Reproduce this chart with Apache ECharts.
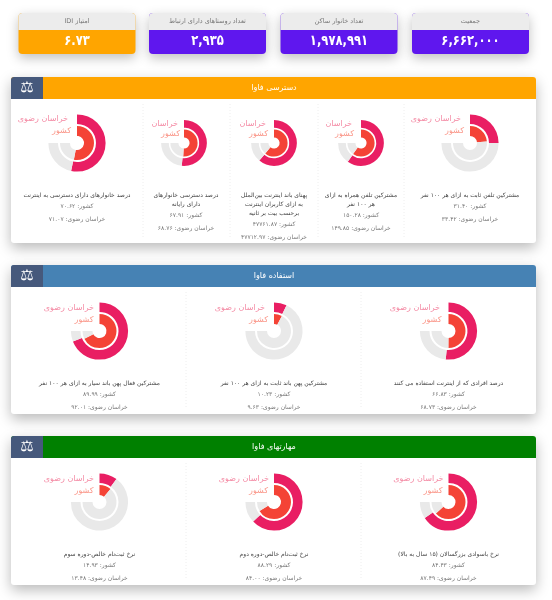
<!DOCTYPE html>
<html dir="rtl"><head><meta charset="utf-8">
<style>html,body{margin:0;padding:0;background:#fff}#c{width:552px;height:600px}</style>
<script src="https://cdn.jsdelivr.net/npm/echarts@6/dist/echarts.min.js"></script></head>
<body><div id="c"></div>
<script>
const statTitles=['جمعیت','تعداد خانوار ساکن','تعداد روستاهای دارای ارتباط','امتیاز IDI'];
const statValues=['۶,۶۶۲,۰۰۰','۱,۹۷۸,۹۹۱','۲,۹۳۵','۶.۷۳'];
const sectionTitles=['دسترسی فاوا','استفاده فاوا','مهارتهای فاوا'];
const row1Titles=[['درصد خانوارهای دارای دسترسی به اینترنت'],['درصد دسترسی خانوارهای','دارای رایانه'],['پهنای باند اینترنت بین‌الملل','به ازای کاربران اینترنت','برحسب بیت بر ثانیه'],['مشترکین تلفن همراه به ازای','هر ۱۰۰ نفر'],['مشترکین تلفن ثابت به ازای هر ۱۰۰ نفر']];
const row1Province=[71.07,68.76,47712.97,149.85,33.42];
const row1Country=[70.62,67.91,47761.87,150.28,31.40];
const row1Max=[100,100,58600,188,100];
const row2Titles=[['مشترکین فعال پهن باند سیار به ازای هر ۱۰۰ نفر'],['مشترکین پهن باند ثابت به ازای هر ۱۰۰ نفر'],['درصد افرادی که از اینترنت استفاده می کنند']];
const row2Province=[92.01,9.63,68.73];
const row2Country=[89.99,10.23,66.83];
const row3Titles=[['نرخ ثبت‌نام خالص-دوره سوم'],['نرخ ثبت‌نام خالص-دوره دوم'],['نرخ باسوادی بزرگسالان (۱۵ سال به بالا)']];
const row3Province=[13.48,84.00,87.49];
const row3Country=[14.93,88.29,84.43];
const provinceName='خراسان رضوی', provinceShort='خراسان', countryName='کشور';

const FONT='"DejaVu Sans",sans-serif';
const fa=(v)=>String(v.toFixed(2)).replace(/\d/g,d=>'۰۱۲۳۴۵۶۷۸۹'[d]);
const g=[], series=[];
const txt=(x,y,t,size,fill,align,weight,sx)=>g.push({type:'text',z:20,x,y,scaleX:sx||1,style:{text:t,font:(weight||'normal')+' '+size+'px '+FONT,fill,align:align||'center',verticalAlign:'middle'}});
const rect=(x,y,w,h,fill,r,extra)=>g.push({type:'rect',z:(extra&&extra.z)||5,shape:{x,y,width:w,height:h,r:r||0},style:Object.assign({fill},extra&&extra.style)});

const cardX=[412,280.5,149,18.5], cardFill=['#5f17ee','#5f17ee','#5f17ee','#ffa500'];
statTitles.forEach((t,i)=>{
  const x=cardX[i],w=117;
  rect(x,13,w,41,cardFill[i],4,{z:4,style:{shadowBlur:12,shadowColor:'rgba(0,0,0,.25)',shadowOffsetY:4}});
  rect(x,13,w,17,'#ececec',[4,4,0,0],{z:5});
  txt(x+w/2,21,t,6.5,'#777');
  txt(x+w/2,41,statValues[i],14.5,'#fff','center','bold',0.8);
});

const panels=[{top:77,head:99,bottom:243,color:'#ffa500',seps:[143,230,318,404]},
 {top:265,head:287,bottom:414,color:'#4682b4',seps:[186,361]},
 {top:436,head:458,bottom:585,color:'#008000',seps:[186,361]}];
panels.forEach((p,i)=>{
  rect(11,p.top,525,p.bottom-p.top,'#fff',3,{z:2,style:{shadowBlur:14,shadowColor:'rgba(0,0,0,.28)',shadowOffsetY:5}});
  rect(11,p.top,525,p.head-p.top,p.color,[3,3,0,0],{z:3});
  rect(11,p.top,32,p.head-p.top,'#46597c',[3,0,0,0],{z:4});
  txt(27,(p.top+p.head)/2,'⚖',15,'#fff');
  txt(274,(p.top+p.head)/2,sectionTitles[i],8,'#fff');
  p.seps.forEach(x=>g.push({type:'line',z:4,shape:{x1:x,y1:p.head+5,x2:x,y2:p.bottom-6},style:{stroke:'#eee',lineWidth:1,lineDash:[1,2]}}));
});

function ring(cx,cy,r0,r1,val,max,color){
  series.push({type:'pie',silent:true,startAngle:90,clockwise:true,center:[cx,cy],radius:[r0,r1],label:{show:false},labelLine:{show:false},animation:false,z:6,
    data:[{value:val,itemStyle:{color}},{value:max-val,itemStyle:{color:'#e9e9e9'}},{value:max/3,itemStyle:{color:'rgba(0,0,0,0)'}}]});
}
function chart(cx,cy,big,titles,prov,ctry,max,yT,legY,legDx,lineH,tx){
  const k=big?1:0.8;
  ring(cx,cy,19*k,28.6*k,prov,max,'#e91e63');
  ring(cx,cy,7*k,17*k,ctry,max,'#f44336');
  txt(cx+legDx[0],legY,big?provinceName:provinceShort,8,'#f48aa4','right');
  txt(cx+legDx[1],legY+(big?12:10),countryName,8,'#fa9486','right');
  titles.forEach((l,j)=>txt(tx,yT+j*lineH,l,6,'#444'));
  const y=yT+(titles.length-1)*lineH;
  txt(tx,y+11,countryName+': '+fa(ctry),6,'#777');
  txt(tx,y+24,provinceName+': '+fa(prov),6,'#777');
}
const r1x=[77,184,274,361,470], r1tx=[77,186,274,361,470], r1big=[1,0,0,0,1], r1dx=[[-9,-6],[-6,-4],[-8,-6],[-9,-7],[-9,-6]];
row1Titles.forEach((t,i)=>chart(r1x[i],143,r1big[i],t,row1Province[i],row1Country[i],row1Max[i],195,r1big[i]?119:124,r1dx[i],9,r1tx[i]));
const rx=[99.5,274,448.5], r2dx=[[-5.5,-6],[-9,-6],[-8.5,-7]], r3dx=[[-5.5,-6],[-5,-6],[-5,-6]];
row2Titles.forEach((t,i)=>chart(rx[i],331,1,t,row2Province[i],row2Country[i],100,383,307.5,r2dx[i],9,rx[i]));
row3Titles.forEach((t,i)=>chart(rx[i],502,1,t,row3Province[i],row3Country[i],100,554,478.5,r3dx[i],9,rx[i]));

const c=echarts.init(document.getElementById('c'),null,{renderer:'canvas'});
c.setOption({backgroundColor:'#fff',animation:false,graphic:{elements:g},series});
</script></body></html>
